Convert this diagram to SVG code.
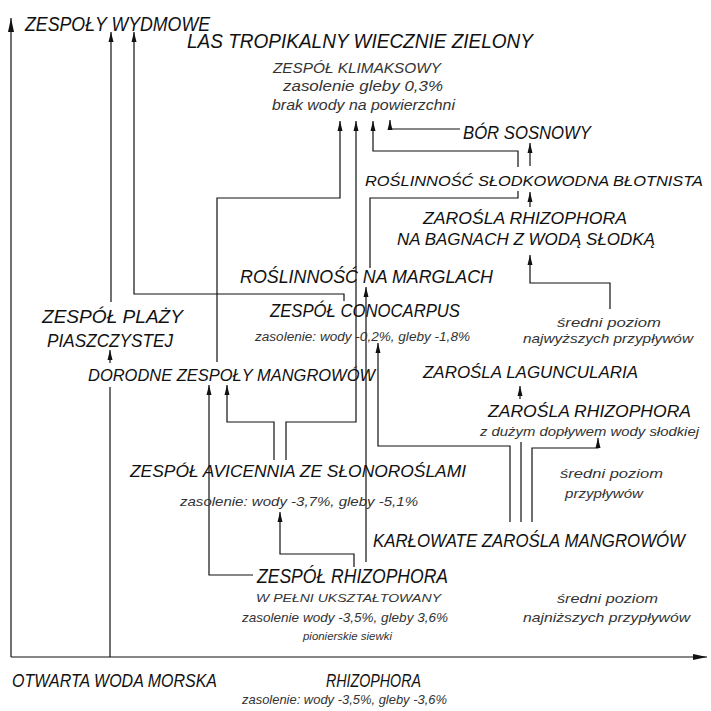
<svg xmlns="http://www.w3.org/2000/svg" width="711" height="711" viewBox="0 0 711 711">
<style>
text{font-family:"Liberation Sans","DejaVu Sans",sans-serif;font-style:italic;fill:#111}
.t{font-size:18px}
.s{font-size:13px;fill:#333}
.c{fill:none;stroke:#111;stroke-width:1.2}
.a{marker-end:url(#arr)}
</style>
<defs>
<marker id="arr" markerUnits="userSpaceOnUse" markerWidth="10" markerHeight="6" refX="10" refY="3" orient="auto">
<path d="M0,0.5 L10,3 L0,5.5 z" fill="#111"/>
</marker>
<marker id="arrBig" markerUnits="userSpaceOnUse" markerWidth="14" markerHeight="7" refX="14" refY="3.5" orient="auto">
<path d="M0,0.5 L14,3.5 L0,6.5 z" fill="#111"/>
</marker>
</defs>
<rect width="711" height="711" fill="#fff"/>

<g id="connectors">
<path class="c" d="M11,657 V18" marker-end="url(#arrBig)"/>
<path class="c" d="M11,657 H707" marker-end="url(#arrBig)"/>
<path class="c a" d="M111,302 V32"/>
<path class="c a" d="M344,301 V294 H134 V32"/>
<path class="c a" d="M217,362 V198 H340 V121"/>
<path class="c a" d="M286,460 V422 H356 V121"/>
<path class="c a" d="M518,167 V151 H373 V121"/>
<path class="c a" d="M460,129 H390 V120"/>
<path class="c a" d="M530,207 V192"/>
<path class="c a" d="M530,166 V143"/>
<path class="c" d="M370,268 V198 H518 V191"/>
<path class="c a" d="M610,309 V283 H530 V255"/>
<path class="c a" d="M110,363 V350"/>
<path class="c" d="M110,387 V657"/>
<path class="c a" d="M274,460 V422 H227 V385"/>
<path class="c a" d="M253,575 H209 V385"/>
<path class="c a" d="M354,567 V554 H280 V512"/>
<path class="c a" d="M366,562 V287"/>
<path class="c a" d="M510,522 V446 H378 V343"/>
<path class="c" d="M521,522 V442"/>
<path class="c a" d="M532,522 V448 H598 V438"/>
<path class="c a" d="M520,399 V386"/>
</g>

<g id="n-wydmowe"><text class="t" x="25" y="31" style="font-size:20px" textLength="185" lengthAdjust="spacingAndGlyphs">ZESPOŁY WYDMOWE</text></g>
<g id="n-las">
<text class="t" x="187" y="48" style="font-size:20px" textLength="346" lengthAdjust="spacingAndGlyphs">LAS TROPIKALNY WIECZNIE ZIELONY</text>
<text class="s" x="273" y="73" style="font-size:14px" textLength="168" lengthAdjust="spacingAndGlyphs">ZESPÓŁ KLIMAKSOWY</text>
<text class="s" x="283" y="91" style="font-size:14px" textLength="160" lengthAdjust="spacingAndGlyphs">zasolenie gleby 0,3%</text>
<text class="s" x="272" y="110" style="font-size:14px" textLength="183" lengthAdjust="spacingAndGlyphs">brak wody na powierzchni</text>
</g>
<g id="n-bor"><text class="t" x="463" y="139" textLength="128" lengthAdjust="spacingAndGlyphs">BÓR SOSNOWY</text></g>
<g id="n-slodkowodna"><text class="t" x="365" y="186" style="font-size:15px" textLength="338" lengthAdjust="spacingAndGlyphs">ROŚLINNOŚĆ SŁODKOWODNA BŁOTNISTA</text></g>
<g id="n-bagna">
<text class="t" x="423" y="224" style="font-size:17px" textLength="204" lengthAdjust="spacingAndGlyphs">ZAROŚLA RHIZOPHORA</text>
<text class="t" x="397" y="245" style="font-size:17px" textLength="258" lengthAdjust="spacingAndGlyphs">NA BAGNACH Z WODĄ SŁODKĄ</text>
</g>
<g id="n-marglach"><text class="t" x="240" y="283" style="font-size:19px" textLength="253" lengthAdjust="spacingAndGlyphs">ROŚLINNOŚĆ NA MARGLACH</text></g>
<g id="n-conocarpus">
<text class="t" x="270" y="317" textLength="190" lengthAdjust="spacingAndGlyphs">ZESPÓŁ CONOCARPUS</text>
<text class="s" x="255" y="341" style="font-size:12px" textLength="215" lengthAdjust="spacingAndGlyphs">zasolenie: wody -0,2%, gleby -1,8%</text>
</g>
<g id="n-plazy">
<text class="t" x="42" y="323" textLength="141" lengthAdjust="spacingAndGlyphs">ZESPÓŁ PLAŻY</text>
<text class="t" x="47" y="347" textLength="126" lengthAdjust="spacingAndGlyphs">PIASZCZYSTEJ</text>
</g>
<g id="n-sredni1">
<text class="s" x="557" y="327" textLength="104" lengthAdjust="spacingAndGlyphs">średni poziom</text>
<text class="s" x="523" y="343" textLength="170" lengthAdjust="spacingAndGlyphs">najwyższych przypływów</text>
</g>
<g id="n-dorodne"><text class="t" x="88" y="381" style="font-size:17px" textLength="287" lengthAdjust="spacingAndGlyphs">DORODNE ZESPOŁY MANGROWÓW</text></g>
<g id="n-laguncularia"><text class="t" x="423" y="378" style="font-size:16px" textLength="215" lengthAdjust="spacingAndGlyphs">ZAROŚLA LAGUNCULARIA</text></g>
<g id="n-rhizo-slodka">
<text class="t" x="488" y="417" style="font-size:17px" textLength="203" lengthAdjust="spacingAndGlyphs">ZAROŚLA RHIZOPHORA</text>
<text class="s" x="480" y="436" textLength="219" lengthAdjust="spacingAndGlyphs">z dużym dopływem wody słodkiej</text>
</g>
<g id="n-avicennia">
<text class="t" x="130" y="477" style="font-size:17px" textLength="336" lengthAdjust="spacingAndGlyphs">ZESPÓŁ AVICENNIA  ZE SŁONOROŚLAMI</text>
<text class="s" x="180" y="506" textLength="238" lengthAdjust="spacingAndGlyphs">zasolenie: wody -3,7%, gleby -5,1%</text>
</g>
<g id="n-sredni2">
<text class="s" x="560" y="478" textLength="103" lengthAdjust="spacingAndGlyphs">średni poziom</text>
<text class="s" x="565" y="498" textLength="78" lengthAdjust="spacingAndGlyphs">przypływów</text>
</g>
<g id="n-karlowate"><text class="t" x="373" y="547" style="font-size:18px" textLength="312" lengthAdjust="spacingAndGlyphs">KARŁOWATE ZAROŚLA MANGROWÓW</text></g>
<g id="n-rhizophora">
<text class="t" x="257" y="583" style="font-size:20px" textLength="191" lengthAdjust="spacingAndGlyphs">ZESPÓŁ RHIZOPHORA</text>
<text class="s" x="256" y="602" style="font-size:11px" textLength="185" lengthAdjust="spacingAndGlyphs">W PEŁNI UKSZTAŁTOWANY</text>
<text class="s" x="242" y="622" textLength="206" lengthAdjust="spacingAndGlyphs">zasolenie wody -3,5%, gleby 3,6%</text>
<text class="s" x="303" y="640" style="font-size:11px" textLength="89" lengthAdjust="spacingAndGlyphs">pionierskie siewki</text>
</g>
<g id="n-sredni3">
<text class="s" x="557" y="603" textLength="101" lengthAdjust="spacingAndGlyphs">średni poziom</text>
<text class="s" x="523" y="622" textLength="167" lengthAdjust="spacingAndGlyphs">najniższych przypływów</text>
</g>
<g id="n-otwarta"><text class="t" x="12" y="687" style="font-size:19px" textLength="205" lengthAdjust="spacingAndGlyphs">OTWARTA WODA MORSKA</text></g>
<g id="n-rhizo-axis">
<text class="t" x="326" y="687" style="font-size:19px" textLength="95" lengthAdjust="spacingAndGlyphs">RHIZOPHORA</text>
<text class="s" x="242" y="704" textLength="205" lengthAdjust="spacingAndGlyphs">zasolenie: wody -3,5%, gleby -3,6%</text>
</g>
</svg>
